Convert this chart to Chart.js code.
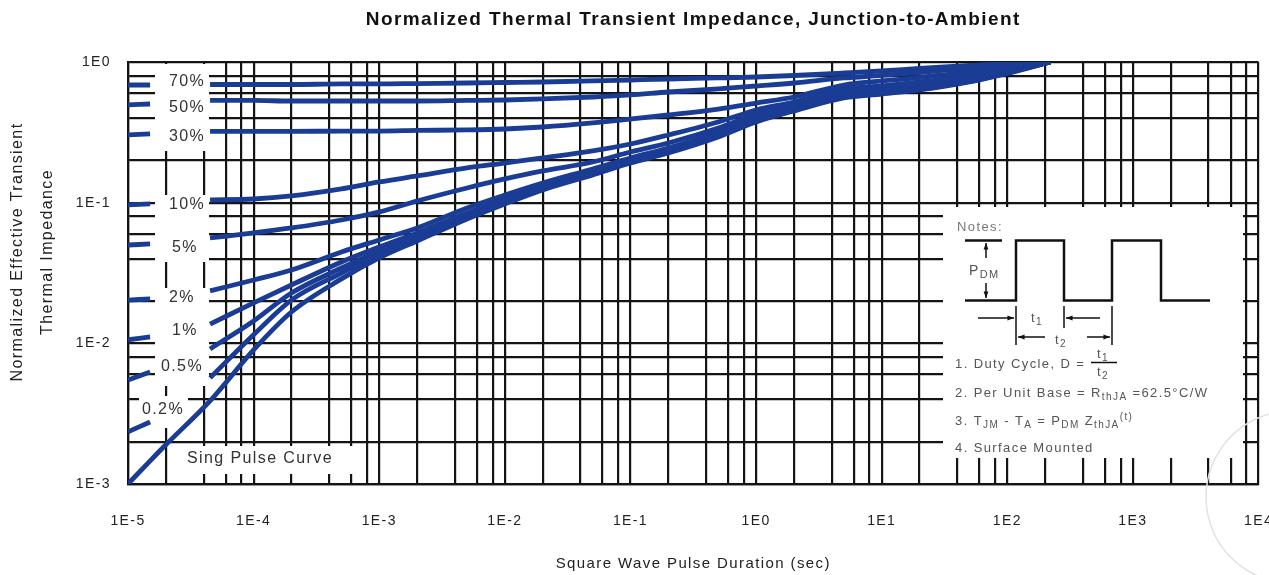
<!DOCTYPE html>
<html>
<head>
<meta charset="utf-8">
<script src="https://cdn.jsdelivr.net/npm/chart.js@4.4.1/dist/chart.umd.min.js"></script>
<style>
  html, body { margin: 0; padding: 0; background: #fff; overflow: hidden; }
  #wrap { width: 1300px; height: 575px; }
</style>
</head>
<body>
<div id="wrap"><canvas id="myChart" width="1300" height="575"></canvas></div>
<script>
const durations = [1e-5, 1.5e-5, 2e-5, 4.5e-5, 1e-4, 2e-4, 5e-4, 1e-3, 2e-3, 5e-3, 1e-2, 2e-2, 5e-2,
  0.1, 0.2, 0.5, 1, 2, 5, 10, 20, 50, 100, 220]

// normalized Zth per duty cycle (null = gap behind the label)
const duty70 = [0.686, 0.686, null, 0.692, 0.692, 0.692, 0.698, 0.698, 0.703, 0.709, 0.715, 0.721, 0.733,
  0.745, 0.757, 0.770, 0.782, 0.802, 0.835, 0.863, 0.899, 0.944, 0.976, 1.0]
const duty50 = [0.495, 0.503, null, 0.533, 0.533, 0.528, 0.528, 0.528, 0.528, 0.533, 0.537, 0.546, 0.564,
  0.583, 0.612, 0.643, 0.675, 0.709, 0.770, 0.802, 0.842, 0.906, 0.952, 1.0]
const duty30 = [0.303, 0.308, null, 0.321, 0.321, 0.321, 0.323, 0.323, 0.326, 0.329, 0.334, 0.345, 0.369,
  0.393, 0.420, 0.463, 0.511, 0.564, 0.686, 0.733, 0.776, 0.849, 0.921, 1.0]
const duty10 = [0.0963, 0.0979, null, 0.1045, 0.1062, 0.1116, 0.1251, 0.1403, 0.1548, 0.1765, 0.1914, 0.2078, 0.2330,
  0.2613, 0.3028, 0.3746, 0.4558, 0.5195, 0.6429, 0.6753, 0.7209, 0.8016, 0.8916, 1.0]
const duty5 = [0.0500, 0.0509, null, 0.0561, 0.0609, 0.0661, 0.0753, 0.0859, 0.1028, 0.1272, 0.1474, 0.1680, 0.1946,
  0.2292, 0.2656, 0.3396, 0.4270, 0.4946, 0.6120, 0.6429, 0.6864, 0.7759, 0.8772, 1.0]
const duty2 = [0.0203, 0.0207, null, 0.0236, 0.0282, 0.0332, 0.0446, 0.0543, 0.0661, 0.0917, 0.1134, 0.1380, 0.1736,
  0.2078, 0.2447, 0.3180, 0.4065, 0.4710, 0.5923, 0.6222, 0.6643, 0.7572, 0.8630, 1.0]
const duty1 = [0.0106, 0.0111, null, 0.0137, 0.0194, 0.0260, 0.0379, 0.0484, 0.0609, 0.0845, 0.1062, 0.1293, 0.1653,
  0.1978, 0.2368, 0.3078, 0.3934, 0.4634, 0.5779, 0.6120, 0.6535, 0.7450, 0.8491, 1.0]
const duty05 = [0.00549, 0.00626, null, 0.00912, 0.0144, 0.0228, 0.0343, 0.0454, 0.0580, 0.0818, 0.1028, 0.1272, 0.1626,
  0.1946, 0.2330, 0.3028, 0.3870, 0.4558, 0.5685, 0.6021, 0.6429, 0.7328, 0.8421, 1.0]
const duty02 = [0.00235, 0.00276, null, 0.00568, 0.0115, 0.0203, 0.0316, 0.0432, 0.0552, 0.0791, 0.1003, 0.1251, 0.1600,
  0.1930, 0.2292, 0.2979, 0.3807, 0.4521, 0.5639, 0.5971, 0.6377, 0.7268, 0.8352, 1.0]
const singlePulse = [0.00100, 0.00146, 0.00190, 0.00390, 0.00898, 0.0167, 0.0287, 0.0405, 0.0534, 0.0766, 0.0979, 0.1231, 0.1574,
  0.1914, 0.2255, 0.2931, 0.3746, 0.4484, 0.5547, 0.5923, 0.6324, 0.7209, 0.8284, 1.0]

// grid lines: 1,2,4,6,8 of every decade
const gridSteps = [1, 2, 4, 6, 8]
const xDecades = [-5, -4, -3, -2, -1, 0, 1, 2, 3, 4]
const yDecades = [-3, -2, -1, 0]

const curveLabels = ['70%', '50%', '30%', '10%', '5%', '2%', '1%', '0.5%', '0.2%', 'Sing Pulse Curve']
const curveValues = [duty70, duty50, duty30, duty10, duty5, duty2, duty1, duty05, duty02, singlePulse]

const FONT = "'Liberation Sans', Arial, sans-serif"
const BLUE = '#1a3c94'
const GRID = '#141414'
const SPACING = '1.4px'   // the scan is stretched sideways, so text runs wide

function gridValues(decades) {
  let out = []
  decades.forEach(function (e, i) {
    gridSteps.forEach(function (m) {
      if (i === decades.length - 1 && m > 1) return
      out.push(parseFloat((m * Math.pow(10, e)).toPrecision(3)))
    })
  })
  return out
}
function isDecade(v) {
  const l = Math.log10(v)
  return Math.abs(l - Math.round(l)) < 1e-6
}
function decadeLabel(v) {
  return isDecade(v) ? '1E' + Math.round(Math.log10(v)) : ''
}

const datasets = curveLabels.map(function (name, k) {
  return {
    label: name,
    data: durations.map(function (d, i) { return { x: d, y: curveValues[k][i] } }),
    borderColor: BLUE,
    borderWidth: 4.8,
    pointRadius: 0,
    cubicInterpolationMode: 'monotone',
    spanGaps: false
  }
})

// text with sub/superscript runs
function runs(ctx, x, y, parts, size) {
  parts.forEach(function (p) {
    let s = p.sub || p.sup ? size - 3 : size
    ctx.font = s + 'px ' + FONT
    let dy = p.sub ? 4 : (p.sup ? -4 : 0)
    ctx.fillText(p.t, x, y + dy)
    x += ctx.measureText(p.t).width
  })
}
function arrow(ctx, x1, y1, x2, y2) {
  ctx.beginPath()
  ctx.moveTo(x1, y1); ctx.lineTo(x2, y2); ctx.stroke()
  const a = Math.atan2(y2 - y1, x2 - x1)
  ctx.beginPath()
  ctx.moveTo(x2, y2)
  ctx.lineTo(x2 - 7 * Math.cos(a - 0.35), y2 - 7 * Math.sin(a - 0.35))
  ctx.lineTo(x2 - 7 * Math.cos(a + 0.35), y2 - 7 * Math.sin(a + 0.35))
  ctx.closePath(); ctx.fill()
}

// white label boxes under the curves, the note panel, y title
const decor = {
  id: 'decor',
  beforeDraw(chart) {
    chart.ctx.letterSpacing = SPACING
  },
  beforeDatasetsDraw(chart) {
    const ctx = chart.ctx
    ctx.save()
    ctx.fillStyle = '#fff'
    ctx.fillRect(155, 64, 54, 87)
    ctx.fillRect(155, 195, 54, 67)
    ctx.fillRect(155, 288, 54, 98)
    ctx.fillRect(139, 396, 49, 32)
    ctx.fillRect(175, 446, 187, 28)
    ctx.fillRect(943, 207, 300, 251)
    ctx.restore()
  },
  afterDatasetsDraw(chart) {
    const ctx = chart.ctx
    ctx.save()
    ctx.letterSpacing = SPACING
    // curve labels
    ctx.fillStyle = '#333'
    ctx.font = '16px ' + FONT
    ctx.textAlign = 'center'
    ctx.textBaseline = 'middle'
    const pos = [[187, 82], [187, 108], [187, 137], [187, 205], [185, 248], [182, 298], [185, 331], [182, 367], [163, 410], [260, 459]]
    curveLabels.forEach(function (t, i) { ctx.fillText(t, pos[i][0], pos[i][1]) })

    // y axis title, two lines
    ctx.fillStyle = '#222'
    ctx.font = '16px ' + FONT
    ctx.save(); ctx.translate(18, 252); ctx.rotate(-Math.PI / 2)
    ctx.fillText('Normalized Effective Transient', 0, 0); ctx.restore()
    ctx.save(); ctx.translate(48, 252); ctx.rotate(-Math.PI / 2)
    ctx.fillText('Thermal Impedance', 0, 0); ctx.restore()

    // notes panel
    ctx.textAlign = 'left'
    ctx.fillStyle = '#777'
    ctx.font = '13px ' + FONT
    ctx.fillText('Notes:', 957, 227)
    ctx.strokeStyle = '#111'
    ctx.fillStyle = '#111'
    ctx.lineWidth = 2.5
    ctx.beginPath()
    ctx.moveTo(965, 300.5); ctx.lineTo(1016, 300.5); ctx.lineTo(1016, 240.5); ctx.lineTo(1064, 240.5)
    ctx.lineTo(1064, 300.5); ctx.lineTo(1112, 300.5); ctx.lineTo(1112, 240.5); ctx.lineTo(1161, 240.5)
    ctx.lineTo(1161, 300.5); ctx.lineTo(1210, 300.5)
    ctx.moveTo(965, 240.5); ctx.lineTo(1002, 240.5)
    ctx.stroke()
    ctx.lineWidth = 1.5
    arrow(ctx, 986, 258, 986, 243)
    arrow(ctx, 986, 283, 986, 298)
    ctx.beginPath()
    ctx.moveTo(1016, 306); ctx.lineTo(1016, 345)
    ctx.moveTo(1064, 306); ctx.lineTo(1064, 328)
    ctx.moveTo(1112, 306); ctx.lineTo(1112, 345)
    ctx.moveTo(1091, 362.5); ctx.lineTo(1117, 362.5)
    ctx.stroke()
    arrow(ctx, 978, 318, 1014, 318)
    arrow(ctx, 1100, 318, 1066, 318)
    arrow(ctx, 1045, 337, 1018, 337)
    arrow(ctx, 1087, 337, 1110, 337)
    ctx.fillStyle = '#555'
    runs(ctx, 969, 271, [{ t: 'P' }, { t: 'DM', sub: true }], 14)
    runs(ctx, 1031, 318, [{ t: 't' }, { t: '1', sub: true }], 13)
    runs(ctx, 1055, 340, [{ t: 't' }, { t: '2', sub: true }], 13)
    runs(ctx, 955, 364, [{ t: '1. Duty Cycle, D =' }], 13)
    runs(ctx, 1097, 354, [{ t: 't' }, { t: '1', sub: true }], 13)
    runs(ctx, 1097, 372, [{ t: 't' }, { t: '2', sub: true }], 13)
    runs(ctx, 955, 393, [{ t: '2. Per Unit Base = R' }, { t: 'thJA', sub: true }, { t: ' =62.5°C/W' }], 13)
    runs(ctx, 955, 421, [{ t: '3. T' }, { t: 'JM', sub: true }, { t: ' - T' }, { t: 'A', sub: true },
      { t: ' = P' }, { t: 'DM', sub: true }, { t: ' Z' }, { t: 'thJA', sub: true }, { t: '(t)', sup: true }], 13)
    runs(ctx, 955, 448, [{ t: '4. Surface Mounted' }], 13)

    // faint stamp in the corner
    ctx.strokeStyle = '#e2e2e2'
    ctx.lineWidth = 1.5
    ctx.beginPath(); ctx.arc(1292, 497, 86, 0, Math.PI * 2); ctx.stroke()
    ctx.restore()
  }
}

const ctx = document.getElementById('myChart').getContext('2d')
const myChart = new Chart(ctx, {
  type: 'line',
  data: { datasets: datasets },
  options: {
    responsive: false,
    animation: false,
    layout: { padding: { left: 0, top: 0, right: 29, bottom: 0 } },
    plugins: {
      legend: { display: false },
      tooltip: { enabled: false },
      title: {
        display: true,
        fullSize: false,
        text: 'Normalized Thermal Transient Impedance, Junction-to-Ambient',
        color: '#111',
        font: { family: FONT, size: 19, weight: 'bold' },
        padding: { top: 8.6, bottom: 30.6 }
      }
    },
    scales: {
      x: {
        type: 'logarithmic',
        min: 1e-5,
        max: 1e4,
        afterBuildTicks: function (s) { s.ticks = gridValues(xDecades).map(function (v) { return { value: v } }) },
        afterFit: function (s) { s.height = 91 },
        ticks: {
          autoSkip: false, maxRotation: 0, padding: 29, color: '#222',
          font: { family: FONT, size: 14 },
          callback: decadeLabel
        },
        grid: { color: GRID, lineWidth: 2.2, drawTicks: false },
        border: { color: GRID, width: 2.2 },
        title: {
          display: true, text: 'Square Wave Pulse Duration (sec)', color: '#222',
          font: { family: FONT, size: 15 }, padding: { top: 0, bottom: 2 }
        }
      },
      y: {
        type: 'logarithmic',
        min: 1e-3,
        max: 1,
        afterBuildTicks: function (s) { s.ticks = gridValues(yDecades).map(function (v) { return { value: v } }) },
        afterFit: function (s) { s.width = 128 },
        ticks: {
          autoSkip: false, padding: 17, color: '#222',
          font: { family: FONT, size: 14 },
          callback: decadeLabel
        },
        grid: { color: GRID, lineWidth: 2.2, drawTicks: false },
        border: { color: GRID, width: 2.2 }
      }
    }
  },
  plugins: [decor]
})
</script>
</body>
</html>
